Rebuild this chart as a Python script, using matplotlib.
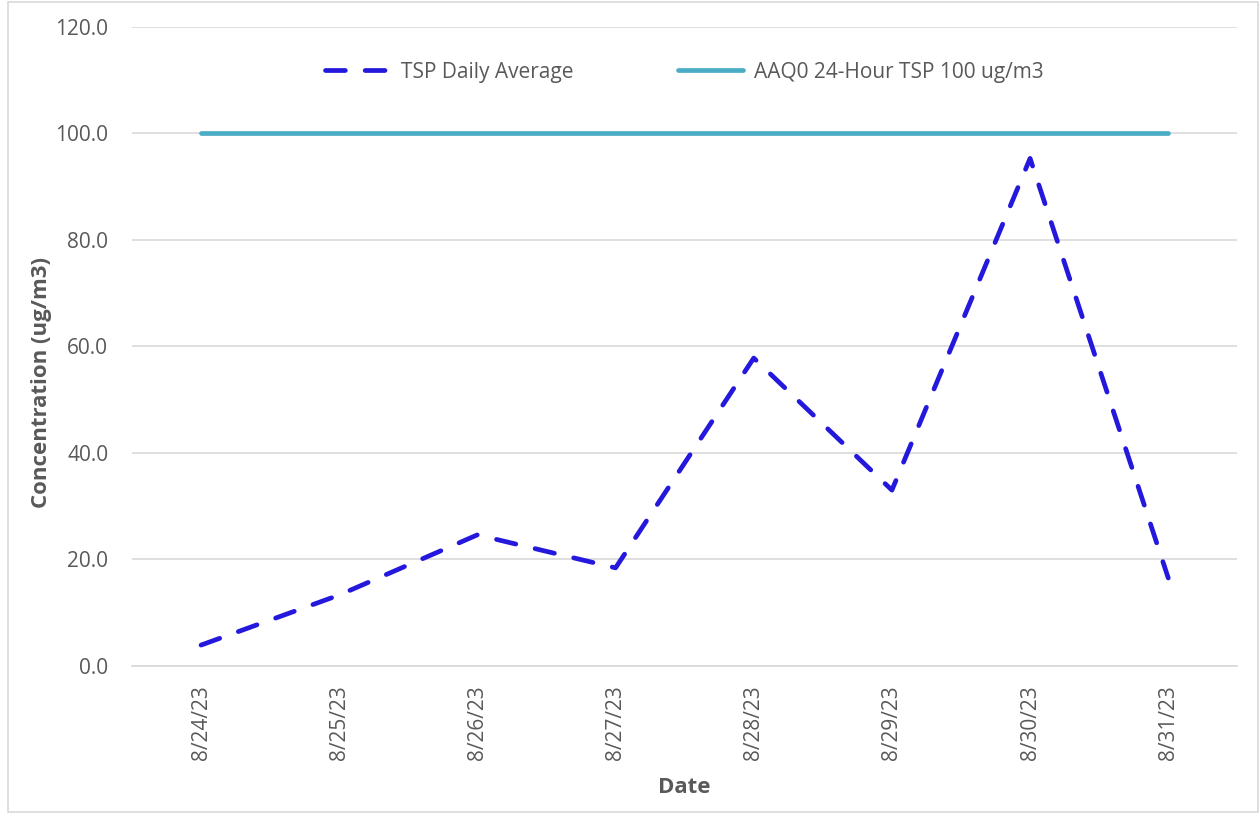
import numpy as np
import matplotlib.pyplot as plt
from matplotlib.patches import Rectangle

dates = ['8/24/23', '8/25/23', '8/26/23', '8/27/23', '8/28/23', '8/29/23', '8/30/23', '8/31/23']
tsp_avg = [3.9, 13.3, 24.6, 18.4, 57.8, 33.0, 95.3, 16.5]
aaqo_limit = [100, 100, 100, 100, 100, 100, 100, 100]
y_ticks = [0, 20, 40, 60, 80, 100, 120]

plt.rcParams['font.family'] = ['Open Sans', 'DejaVu Sans']
gray = '#595959'

fig = plt.figure(figsize=(12.59, 8.14), dpi=100)
ax = fig.add_axes([0.1048, 0.182, 0.878, 0.785])

# chart border
fig.patches.append(Rectangle((0.006, 0.002), 0.993, 0.996, transform=fig.transFigure,
                             fill=False, edgecolor='#D9D9D9', linewidth=1.2))

x = np.arange(len(dates))
ax.plot(x, tsp_avg, color='#2418DC', linewidth=3.4, linestyle=(0, (4.2, 4.2)),
        dash_capstyle='round', label='TSP Daily Average', zorder=3)
ax.plot(x, aaqo_limit, color='#4BACC6', linewidth=3.4, solid_capstyle='round',
        label='AAQ0 24-Hour TSP 100 ug/m3', zorder=3)

ax.set_xlim(-0.5, len(dates) - 0.5)
ax.set_ylim(0, 120)
ax.set_yticks(y_ticks)
ax.set_yticklabels(['%.1f' % v for v in y_ticks])
ax.set_xticks(x)
ax.set_xticklabels(dates, rotation=90)
ax.tick_params(axis='both', length=0, labelsize=15, colors=gray)
ax.tick_params(axis='x', pad=14)
ax.tick_params(axis='y', pad=17)

ax.grid(axis='y', color='#D9D9D9', linewidth=1.2)
ax.set_axisbelow(True)
for s in ['top', 'right', 'left']:
    ax.spines[s].set_visible(False)
ax.spines['bottom'].set_color('#D9D9D9')
ax.spines['bottom'].set_linewidth(1.2)

ax.set_ylabel('Concentration (ug/m3)', fontsize=16, fontweight='bold', color=gray)
ax.yaxis.set_label_coords(-0.072, 0.443)
ax.set_xlabel('Date', fontsize=16, fontweight='bold', color=gray, labelpad=12)

leg = ax.legend(loc='upper center', bbox_to_anchor=(0.5, 0.975), ncol=2, frameon=False,
                fontsize=15, handlelength=3.1, columnspacing=5.0, handletextpad=0.55)
for t in leg.get_texts():
    t.set_color(gray)

fig.savefig('out.png', dpi=100)
